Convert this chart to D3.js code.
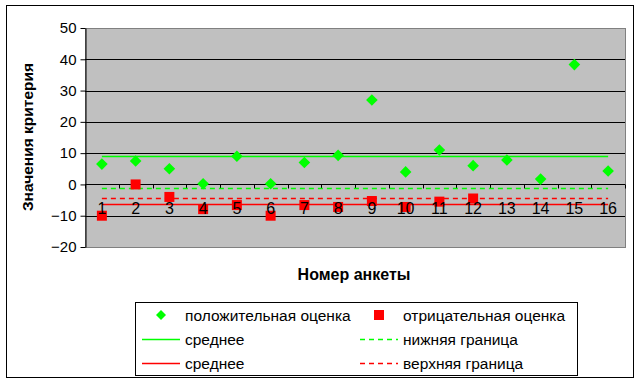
<!DOCTYPE html>
<html>
<head>
<meta charset="utf-8">
<script src="https://cdn.jsdelivr.net/npm/d3@7"></script>
<style>
  html, body { margin: 0; padding: 0; background: #fff; }
  svg { display: block; font-family: Arial, "Liberation Sans", sans-serif; }
</style>
</head>
<body>
<svg id="chart" width="642" height="386"></svg>
<script>
/* ---------- data ---------- */
const categories = ["1","2","3","4","5","6","7","8","9","10","11","12","13","14","15","16"];
const positive   = [6.5, 7.5, 5, 0.2, 9, 0.2, 7, 9.3, 27, 4, 11, 6, 7.8, 1.7, 38.3, 4.3];
const negative   = [-10, 0, -4, -7.9, -6.6, -10, -6.6, -7.2, -5.3, -7.2, -5.5, -4.5];
const yTicks     = [-20, -10, 0, 10, 20, 30, 40, 50];

const posMean  = 9.05;   // среднее (зелёная)
const posLower = -1;     // нижняя граница
const negUpper = -4.2;   // верхняя граница
const negMean  = -6.3;   // среднее (красная)

const legendItems = [
  { label: "положительная оценка", kind: "diamond", color: "#00ff00" },
  { label: "отрицательная оценка", kind: "square",  color: "#ff0000" },
  { label: "среднее",              kind: "line",    color: "#00ff00" },
  { label: "нижняя граница",       kind: "dash",    color: "#00ff00" },
  { label: "среднее",              kind: "line",    color: "#ff0000" },
  { label: "верхняя граница",      kind: "dash",    color: "#ff0000" }
];

/* ---------- layout ---------- */
const svg = d3.select("#chart");
const plot = { left: 85, top: 28, right: 625, bottom: 247 };

// diamond marker, half-diagonal r
const diamondPath = r => `M0,${-r}L${r},0L0,${r}L${-r},0Z`;

// outer chart border
svg.append("rect")
  .attr("x", 6.5).attr("y", 5.5).attr("width", 627).attr("height", 372)
  .attr("fill", "#fff").attr("stroke", "#000").attr("stroke-width", 1);

const x = d3.scaleBand().domain(categories).range([plot.left, plot.right]);
const y = d3.scaleLinear().domain([-20, 50]).range([plot.bottom, plot.top]);
const cx = d => x(d) + x.bandwidth() / 2;
const py = v => Math.round(y(v)) + 0.5;

// plot background
svg.append("rect")
  .attr("x", plot.left + 0.5).attr("y", plot.top + 0.5)
  .attr("width", plot.right - plot.left).attr("height", plot.bottom - plot.top)
  .attr("fill", "#c0c0c0").attr("stroke", "#808080").attr("stroke-width", 1);

// gridlines
svg.append("g").selectAll("line")
  .data(yTicks.filter(v => v !== -20 && v !== 50 && v !== 0))
  .join("line")
  .attr("x1", plot.left).attr("x2", plot.right)
  .attr("y1", d => py(d)).attr("y2", d => py(d))
  .attr("stroke", "#000");

// y axis
const yAxis = svg.append("g")
  .attr("transform", `translate(${plot.left + 0.5},0)`)
  .call(d3.axisLeft(y).tickValues(yTicks).tickSize(5).tickSizeOuter(0).tickPadding(4));
yAxis.select(".domain").attr("stroke", "#000");
yAxis.selectAll(".tick line").attr("stroke", "#000");
yAxis.selectAll("text").attr("font-size", 15).attr("fill", "#000")
  .attr("font-family", "Arial, 'Liberation Sans', sans-serif");

// x axis at zero
const y0 = py(0);
svg.append("line")
  .attr("x1", plot.left).attr("x2", plot.right)
  .attr("y1", y0).attr("y2", y0).attr("stroke", "#000");
svg.append("g").selectAll("line")
  .data(d3.range(categories.length + 1))
  .join("line")
  .attr("x1", i => Math.round(plot.left + i * x.step()) + 0.5)
  .attr("x2", i => Math.round(plot.left + i * x.step()) + 0.5)
  .attr("y1", y0).attr("y2", y0 + 4)
  .attr("stroke", "#000");

// reference lines
const lineData = [
  { v: posMean,  color: "#00ff00", dash: null },
  { v: posLower, color: "#00ff00", dash: "5,4" },
  { v: negUpper, color: "#ff0000", dash: "5,4" },
  { v: negMean,  color: "#ff0000", dash: null }
];
svg.append("g").selectAll("line")
  .data(lineData)
  .join("line")
  .attr("x1", cx(categories[0])).attr("x2", cx(categories[categories.length - 1]))
  .attr("y1", d => py(d.v)).attr("y2", d => py(d.v))
  .attr("stroke", d => d.color).attr("stroke-width", 1.3)
  .attr("stroke-dasharray", d => d.dash);

// markers
svg.append("g").selectAll("path")
  .data(positive)
  .join("path")
  .attr("d", diamondPath(5.8))
  .attr("transform", (d, i) => `translate(${cx(categories[i])},${y(d)})`)
  .attr("fill", "#00ff00");

svg.append("g").selectAll("rect")
  .data(negative)
  .join("rect")
  .attr("x", (d, i) => cx(categories[i]) - 5).attr("y", d => y(d) - 5)
  .attr("width", 10).attr("height", 10)
  .attr("fill", "#ff0000");

// x tick labels (drawn over markers)
svg.append("g").selectAll("text")
  .data(categories)
  .join("text")
  .attr("x", d => cx(d)).attr("y", 214)
  .attr("text-anchor", "middle")
  .attr("font-size", 16).attr("fill", "#000")
  .text(d => d);

// axis titles
svg.append("text")
  .attr("x", 354).attr("y", 280)
  .attr("text-anchor", "middle")
  .attr("font-size", 16).attr("font-weight", "bold")
  .text("Номер анкеты");

svg.append("text")
  .attr("transform", "translate(33,137) rotate(-90)")
  .attr("text-anchor", "middle")
  .attr("font-size", 15.5).attr("font-weight", "bold")
  .text("Значения критерия");

/* ---------- legend ---------- */
const legend = svg.append("g");
legend.append("rect")
  .attr("x", 135.5).attr("y", 302.5).attr("width", 442).attr("height", 73)
  .attr("fill", "#fff").attr("stroke", "#000");

const colX = [142, 360];
const rowY = [315, 339, 363];
legendItems.forEach((it, i) => {
  const lx = colX[i % 2], ly = rowY[Math.floor(i / 2)];
  const g = legend.append("g");
  if (it.kind === "diamond") {
    g.append("path").attr("d", diamondPath(5))
      .attr("transform", `translate(${lx + 19},${ly})`).attr("fill", it.color);
  } else if (it.kind === "square") {
    g.append("rect").attr("x", lx + 14).attr("y", ly - 5).attr("width", 10).attr("height", 10)
      .attr("fill", it.color);
  } else {
    g.append("line").attr("x1", lx).attr("x2", lx + 38)
      .attr("y1", ly + 0.5).attr("y2", ly + 0.5)
      .attr("stroke", it.color).attr("stroke-width", 1.3)
      .attr("stroke-dasharray", it.kind === "dash" ? "5,4" : null);
  }
  g.append("text")
    .attr("x", lx + 43).attr("y", ly + 5.5)
    .attr("font-size", 15.5).attr("fill", "#000")
    .text(it.label);
});
</script>
</body>
</html>
